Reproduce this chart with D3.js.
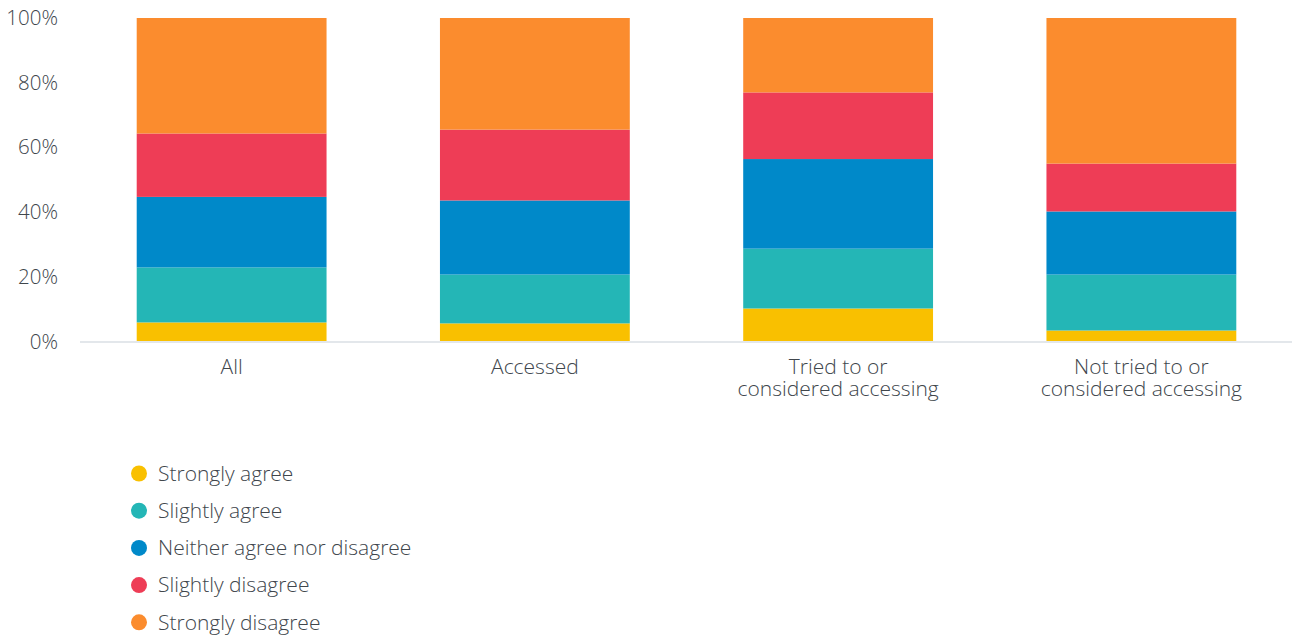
<!DOCTYPE html>
<html>
<head>
<meta charset="utf-8">
<script src="https://cdn.jsdelivr.net/npm/d3@7"></script>
<style>
  html, body { margin: 0; padding: 0; background: #ffffff; }
  svg text { font-family: "Open Sans", "Noto Sans", sans-serif; font-weight: 300; fill: #40464c; }
</style>
</head>
<body>
<svg id="chart" width="1292" height="639"></svg>
<script>
// Survey groups (x axis) and their label lines
const categories = ["All", "Accessed", "Tried to or considered accessing", "Not tried to or considered accessing"];
const categoryLines = [["All"], ["Accessed"], ["Tried to or", "considered accessing"], ["Not tried to or", "considered accessing"]];

// Response options, bottom of the stack first
const responses = ["Strongly agree", "Slightly agree", "Neither agree nor disagree", "Slightly disagree", "Strongly disagree"];
const responseColors = ["#f9c000", "#24b6b6", "#0089c9", "#ee3d56", "#fb8c2e"];

// Share of respondents (%) per response, one array per group
const stronglyAgree    = [5.9, 5.6, 10.2, 3.4];
const slightlyAgree    = [17.0, 15.1, 18.5, 17.3];
const neither          = [21.8, 22.9, 27.7, 19.5];
const slightlyDisagree = [19.6, 21.9, 20.6, 14.8];
const stronglyDisagree = [35.7, 34.5, 23.0, 45.0];

const yTicks = [0, 20, 40, 60, 80, 100];

const seriesValues = [stronglyAgree, slightlyAgree, neither, slightlyDisagree, stronglyDisagree];
const rows = categories.map((c, i) => {
  const r = { category: c };
  responses.forEach((k, j) => { r[k] = seriesValues[j][i]; });
  return r;
});

const svg = d3.select("#chart");
const x = d3.scaleBand().domain(categories).range([80, 1293]).paddingInner(0.374).paddingOuter(0.187);
const y = d3.scaleLinear().domain([0, 100]).range([341.5, 18]);
const color = d3.scaleOrdinal().domain(responses).range(responseColors);

const stacked = d3.stack().keys(responses)(rows);

// Stacked bars
svg.append("g").selectAll("g")
  .data(stacked)
  .join("g")
  .attr("fill", d => color(d.key))
  .selectAll("rect")
  .data(d => d)
  .join("rect")
  .attr("x", d => x(d.data.category))
  .attr("width", x.bandwidth())
  .attr("y", d => y(d[1]))
  .attr("height", d => y(d[0]) - y(d[1]));

// Baseline
svg.append("line")
  .attr("x1", 80).attr("x2", 1292)
  .attr("y1", y(0) + 0.5).attr("y2", y(0) + 0.5)
  .attr("stroke", "#e3e7eb").attr("stroke-width", 2);

// Y axis labels
const yAxis = d3.axisLeft(y).tickValues(yTicks).tickFormat(d => d + "%").tickSize(0).tickPadding(0);
const yg = svg.append("g").attr("transform", "translate(58,0)").call(yAxis);
yg.select(".domain").remove();
yg.selectAll("text").attr("font-size", 20.5).attr("font-family", null).attr("fill", null);

// Category labels
const xl = svg.append("g").selectAll("text")
  .data(categories)
  .join("text")
  .attr("text-anchor", "middle")
  .attr("font-size", 21)
  .attr("x", d => x(d) + x.bandwidth() / 2);
xl.selectAll("tspan")
  .data((d, i) => categoryLines[i])
  .join("tspan")
  .attr("x", function () { return d3.select(this.parentNode).attr("x"); })
  .attr("y", (d, i) => 374 + i * 22)
  .text(d => d);

// Legend
const legend = svg.append("g").selectAll("g")
  .data(responses)
  .join("g")
  .attr("transform", (d, i) => `translate(139,${473.5 + i * 37.2})`);
legend.append("circle").attr("r", 8).attr("fill", d => color(d));
legend.append("text")
  .attr("x", 19).attr("dy", "0.35em")
  .attr("font-size", 21)
  .text(d => d);
</script>
</body>
</html>
